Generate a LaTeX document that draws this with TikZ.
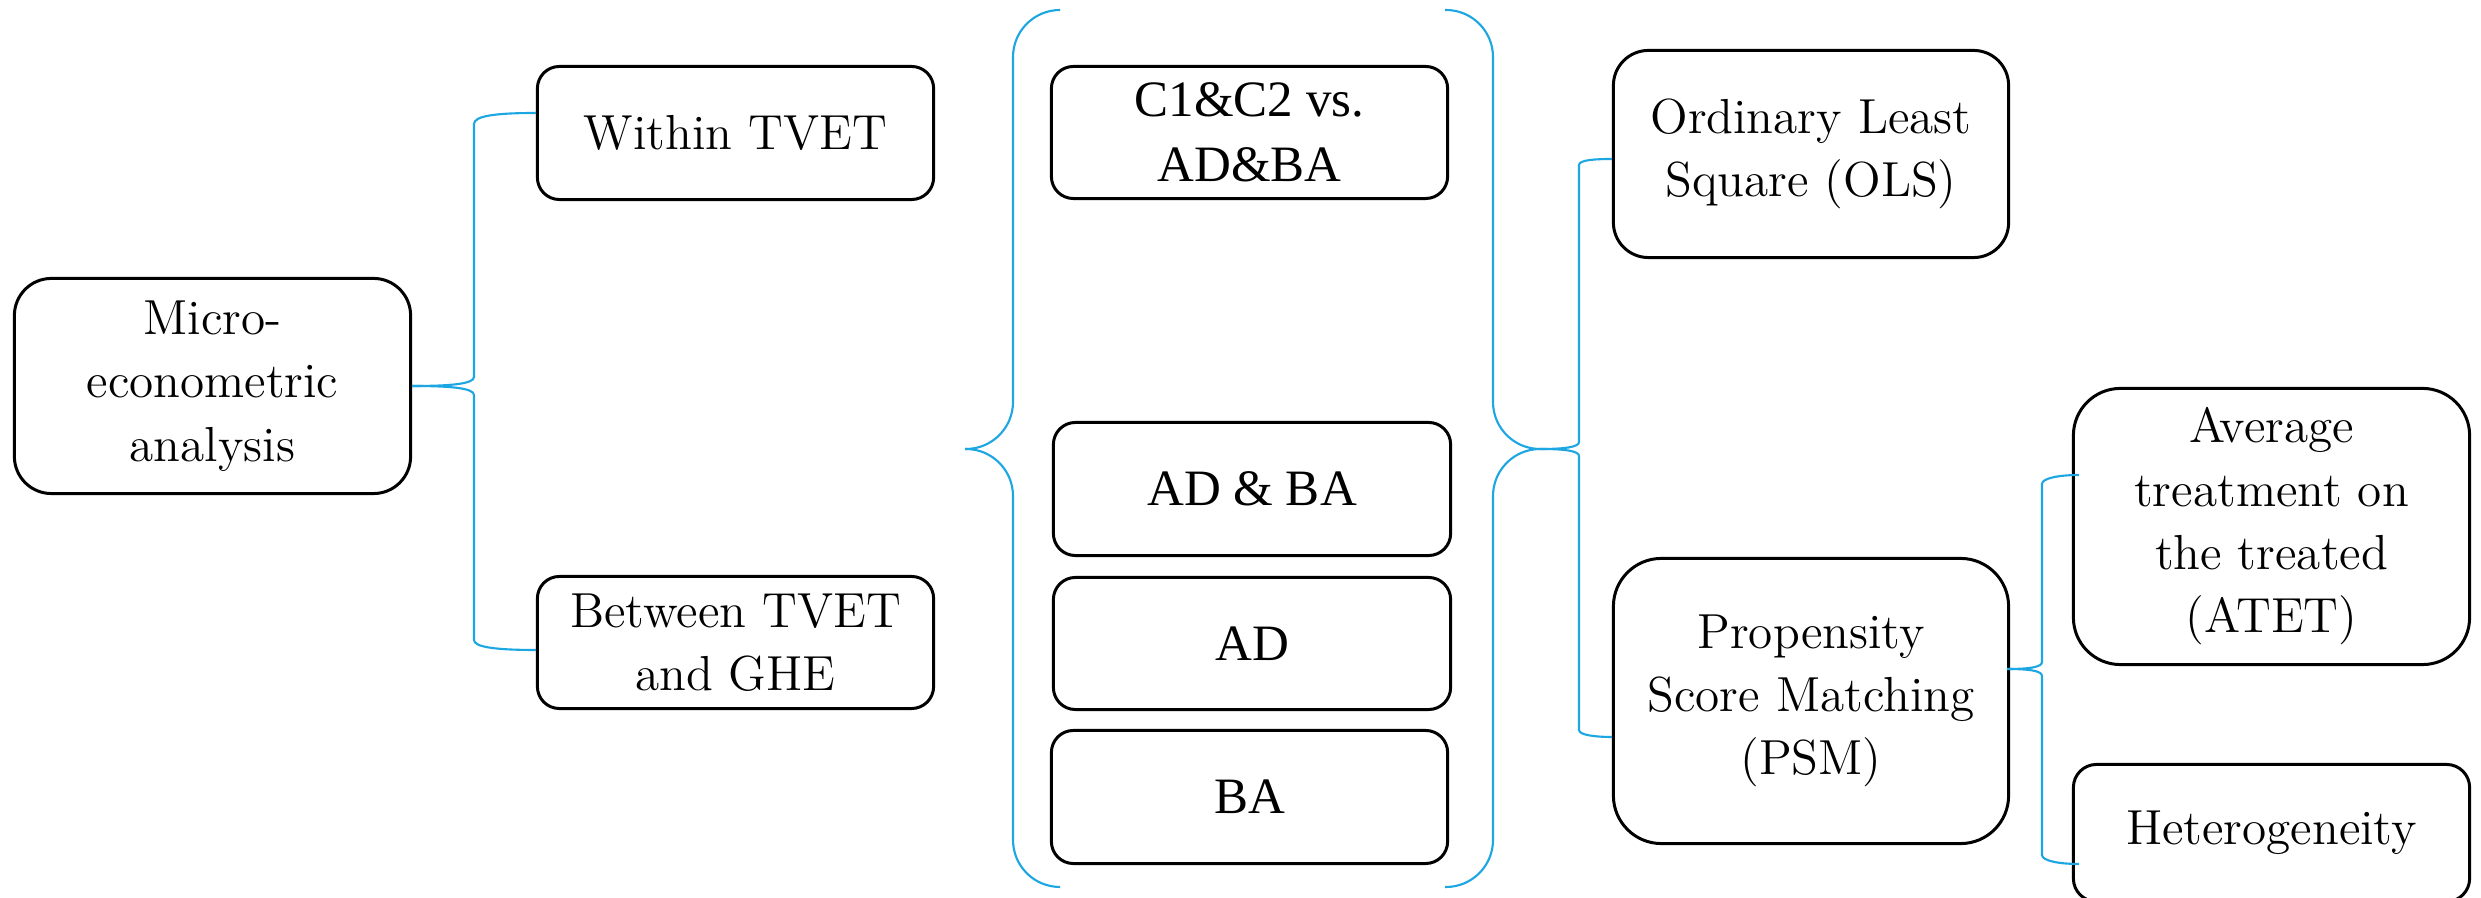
\documentclass[tikz,border=0pt]{standalone}
\usepackage{fontspec}
\newfontfamily\tnr{Liberation Serif}
\usetikzlibrary{calc}
\definecolor{bracketblue}{RGB}{28,166,226}
\begin{document}
\begin{tikzpicture}[x=0.01cm,y=-0.01cm,
  box/.style={draw=black, line width=0.85pt, align=center, inner sep=0pt,
    font=\fontsize{14}{18}\selectfont},
  tbox/.style={box, font=\tnr\fontsize{14.5}{18.4}\selectfont},
  brk/.style={draw=bracketblue, line width=0.6pt}]
\useasboundingbox (0,0) rectangle (2481,898);
\clip (0,0) rectangle (2481,898);
\fill[white] (0,0) rectangle (2481,898);

% left column
\node[box, minimum width=3.96cm, minimum height=2.15cm, rounded corners=0.37cm] (micro) at (212.5,386) {Micro-\\econometric\\analysis};
\node[box, minimum width=3.96cm, minimum height=1.33cm, rounded corners=0.22cm] (within) at (735.5,133) {Within TVET};
\node[box, minimum width=3.96cm, minimum height=1.32cm, rounded corners=0.22cm] (between) at (735.5,642.5) {Between TVET\\and GHE};

% middle column
\node[tbox, minimum width=3.96cm, minimum height=1.32cm, rounded corners=0.22cm] (c1c2) at (1249.5,132.5) {C1\&C2 vs.\\AD\&BA};
\node[tbox, minimum width=3.97cm, minimum height=1.33cm, rounded corners=0.22cm] (adba) at (1252,489) {AD \& BA};
\node[tbox, minimum width=3.97cm, minimum height=1.32cm, rounded corners=0.22cm] (ad) at (1252,643.5) {AD};
\node[tbox, minimum width=3.96cm, minimum height=1.33cm, rounded corners=0.22cm] (ba) at (1249.5,797) {BA};

% right columns
\node[box, minimum width=3.95cm, minimum height=2.07cm, rounded corners=0.35cm] (ols) at (1811,154) {Ordinary Least\\Square (OLS)};
\node[box, minimum width=3.95cm, minimum height=2.85cm, rounded corners=0.48cm] (psm) at (1811,701) {Propensity\\Score Matching\\(PSM)};
\node[box, minimum width=3.96cm, minimum height=2.76cm, rounded corners=0.47cm] (atet) at (2271.5,526.5) {Average\\treatment on\\the treated\\(ATET)};
\node[box, minimum width=3.96cm, minimum height=1.37cm, rounded corners=0.23cm] (het) at (2271.5,833) {Heterogeneity};

% bracket: micro -> within / between
\draw[brk] (micro.east) .. controls (450,386) and (474,384) .. (474,377) -- (474,124) .. controls (474,116) and (495,113) .. ($(within.west)+(0,-20)$);
\draw[brk] (micro.east) .. controls (450,386) and (474,388) .. (474,395) -- (474,640) .. controls (474,647) and (495,650) .. ($(between.west)+(0,7.5)$);

% big braces around the middle column
\draw[brk, rounded corners=0.47cm] (1060,10) -- (1013,10) -- (1013,449) -- (965,449);
\draw[brk, rounded corners=0.47cm] (965,449) -- (1013,449) -- (1013,887) -- (1060,887);
\draw[brk, rounded corners=0.47cm] (1445,10) -- (1493,10) -- (1493,449) -- (1541,449);
\draw[brk, rounded corners=0.47cm] (1541,449) -- (1493,449) -- (1493,887) -- (1445,887);

% bracket: brace tip -> OLS / PSM
\coordinate (rtip) at (1541,449);
\draw[brk] (rtip) .. controls (1565,449) and (1579,447) .. (1579,442) -- (1579,165) .. controls (1579,160) and (1595,159) .. ($(ols.west)+(0,5)$);
\draw[brk] (rtip) .. controls (1565,449) and (1579,451) .. (1579,456) -- (1579,730) .. controls (1579,735) and (1595,737) .. ($(psm.west)+(0,36)$);

% bracket: PSM -> ATET / Heterogeneity
\coordinate (ptip) at ($(psm.east)+(-3,-32)$);
\draw[brk] (ptip) .. controls (2030,669) and (2042,667) .. (2042,662) -- (2042,484) .. controls (2042,478) and (2060,475) .. ($(atet.west)+(7,-51.5)$);
\draw[brk] (ptip) .. controls (2030,669) and (2042,671) .. (2042,676) -- (2042,855) .. controls (2042,861) and (2060,864) .. ($(het.west)+(7,31)$);
\end{tikzpicture}
\end{document}
